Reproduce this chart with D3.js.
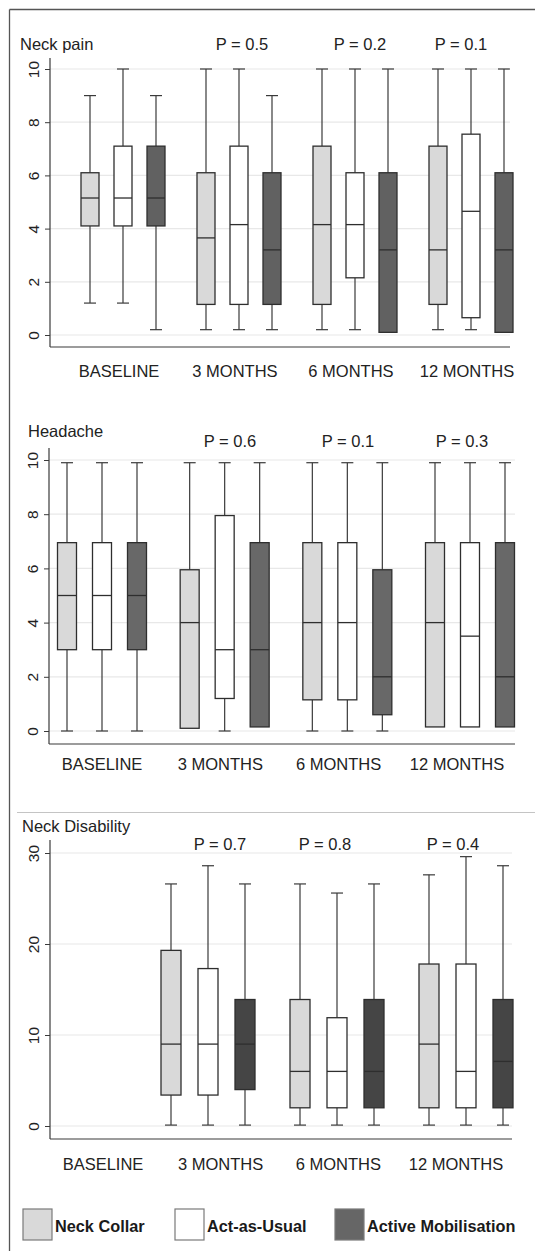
<!DOCTYPE html>
<html>
<head>
<meta charset="utf-8">
<script src="https://cdn.jsdelivr.net/npm/d3@7"></script>
<style>
  html, body { margin: 0; padding: 0; background: #fff; }
  svg { display: block; font-family: "Liberation Sans", Arial, Helvetica, sans-serif; }
</style>
</head>
<body>
<svg id="chart" width="535" height="1251"></svg>
<script>
// ---------- DATA ----------
const categories = ["BASELINE", "3 MONTHS", "6 MONTHS", "12 MONTHS"];
const groups = ["Neck Collar", "Act-as-Usual", "Active Mobilisation"];
const panelTitles = ["Neck pain", "Headache", "Neck Disability"];
const yTicksPain = [0, 2, 4, 6, 8, 10];
const yTicksHeadache = [0, 2, 4, 6, 8, 10];
const yTicksDisability = [0, 10, 20, 30];
const pLabelsPain = ["", "P = 0.5", "P = 0.2", "P = 0.1"];
const pLabelsHeadache = ["", "P = 0.6", "P = 0.1", "P = 0.3"];
const pLabelsDisability = ["", "P = 0.7", "P = 0.8", "P = 0.4"];

// box stats per category, per group: [min, q1, median, q3, max]
const neckPain = [
  [[1.2, 4.1, 5.15, 6.1, 9], [1.2, 4.1, 5.15, 7.1, 10], [0.2, 4.1, 5.15, 7.1, 9]],
  [[0.2, 1.15, 3.65, 6.1, 10], [0.2, 1.15, 4.15, 7.1, 10], [0.2, 1.15, 3.2, 6.1, 9]],
  [[0.2, 1.15, 4.15, 7.1, 10], [0.2, 2.15, 4.15, 6.1, 10], [0.1, 0.1, 3.2, 6.1, 10]],
  [[0.2, 1.15, 3.2, 7.1, 10], [0.2, 0.65, 4.65, 7.55, 10], [0.1, 0.1, 3.2, 6.1, 10]]
];
const headache = [
  [[0, 3.0, 5.0, 6.95, 9.9], [0, 3.0, 5.0, 6.95, 9.9], [0, 3.0, 5.0, 6.95, 9.9]],
  [[0.1, 0.1, 4.0, 5.95, 9.9], [0, 1.2, 3.0, 7.95, 9.9], [0.15, 0.15, 3.0, 6.95, 9.9]],
  [[0, 1.15, 4.0, 6.95, 9.9], [0, 1.15, 4.0, 6.95, 9.9], [0, 0.6, 2.0, 5.95, 9.9]],
  [[0.15, 0.15, 4.0, 6.95, 9.9], [0.15, 0.15, 3.5, 6.95, 9.9], [0.15, 0.15, 2.0, 6.95, 9.9]]
];
const neckDisability = [
  null,
  [[0.1, 3.4, 9.0, 19.3, 26.6], [0.1, 3.4, 9.0, 17.3, 28.6], [0.1, 4.0, 9.0, 13.9, 26.6]],
  [[0.1, 2.0, 6.0, 13.9, 26.6], [0.1, 2.0, 6.0, 11.9, 25.6], [0.1, 2.0, 6.0, 13.9, 26.6]],
  [[0.1, 2.0, 9.0, 17.8, 27.6], [0.1, 2.0, 6.0, 17.8, 29.6], [0.1, 2.0, 7.1, 13.9, 28.6]]
];

// ---------- LAYOUT ----------
const fillsByPanel = [
  ["#d9d9d9", "#ffffff", "#616161"],
  ["#d9d9d9", "#ffffff", "#686868"],
  ["#d9d9d9", "#ffffff", "#454545"]
];
const panels = [
  { title: panelTitles[0], data: neckPain, ticks: yTicksPain, domain: [0, 10], pLabels: pLabelsPain,
    yRange: [335, 69], axisX: 50, axisTop: 58, xAxisY: 347, xAxisEnd: 510,
    groupRange: [123, 471], offset: 33, boxW: 18,
    labelRange: [119, 467], labelY: 377, titleX: 20, titleY: 50,
    pX: [0, 242, 360, 461], pY: 50, fills: fillsByPanel[0] },
  { title: panelTitles[1], data: headache, ticks: yTicksHeadache, domain: [0, 10], pLabels: pLabelsHeadache,
    yRange: [731, 460], axisX: 49, axisTop: 448, xAxisY: 744, xAxisEnd: 515,
    groupRange: [102, 470], offset: 35, boxW: 19,
    labelRange: [102, 457], labelY: 770, titleX: 28, titleY: 437,
    pX: [0, 230, 348, 462], pY: 447, fills: fillsByPanel[1] },
  { title: panelTitles[2], data: neckDisability, ticks: yTicksDisability, domain: [0, 30], pLabels: pLabelsDisability,
    yRange: [1126, 853], axisX: 50, axisTop: 840, xAxisY: 1139, xAxisEnd: 512,
    groupRange: [79, 466], offset: 37, boxW: 20,
    labelRange: [103, 456], labelY: 1170, titleX: 22, titleY: 832,
    pX: [0, 220, 325, 453], pY: 850, fills: fillsByPanel[2] }
];

const svg = d3.select("#chart");
const ink = "#3a3a3a";

// outer frame
svg.append("line").attr("x1", 9.5).attr("x2", 9.5).attr("y1", 9.5).attr("y2", 1251)
  .attr("stroke", "#555").attr("stroke-width", 1.3);
svg.append("line").attr("x1", 9.5).attr("x2", 535).attr("y1", 9.5).attr("y2", 9.5)
  .attr("stroke", "#555").attr("stroke-width", 1.3);
// separator above third panel
svg.append("line").attr("x1", 17).attr("x2", 535).attr("y1", 812.5).attr("y2", 812.5)
  .attr("stroke", "#c4c4c4").attr("stroke-width", 1);

panels.forEach(p => {
  const g = svg.append("g");
  const y = d3.scaleLinear().domain(p.domain).range(p.yRange);
  const xCat = d3.scalePoint().domain(categories).range(p.groupRange);
  const xLab = d3.scalePoint().domain(categories).range(p.labelRange);
  const xGrp = d3.scalePoint().domain(groups).range([-p.offset, p.offset]);

  // gridlines
  g.append("g").selectAll("line").data(p.ticks).join("line")
    .attr("x1", p.axisX).attr("x2", p.xAxisEnd)
    .attr("y1", d => y(d)).attr("y2", d => y(d))
    .attr("stroke", "#e8e8e8").attr("stroke-width", 1.2);

  // y axis
  const ax = g.append("g").attr("transform", `translate(${p.axisX},0)`)
    .call(d3.axisLeft(y).tickValues(p.ticks).tickSize(5).tickFormat(d3.format("d")));
  ax.select(".domain").remove();
  ax.selectAll(".tick line").attr("stroke", ink).attr("stroke-width", 1);
  ax.selectAll(".tick text")
    .attr("x", null).attr("dy", null).attr("fill", "#222")
    .attr("text-anchor", "middle").attr("font-size", 15.5)
    .attr("transform", "translate(-11,0) rotate(-90)");
  g.append("line").attr("x1", p.axisX).attr("x2", p.axisX)
    .attr("y1", p.axisTop).attr("y2", p.xAxisY).attr("stroke", ink).attr("stroke-width", 1.2);
  g.append("line").attr("x1", p.axisX).attr("x2", p.xAxisEnd)
    .attr("y1", p.xAxisY).attr("y2", p.xAxisY).attr("stroke", ink).attr("stroke-width", 1.2);

  // category labels
  g.append("g").selectAll("text").data(categories).join("text")
    .attr("x", d => xLab(d)).attr("y", p.labelY)
    .attr("text-anchor", "middle").attr("font-size", 16.5).attr("fill", "#222")
    .text(d => d);

  // title
  g.append("text").attr("x", p.titleX).attr("y", p.titleY)
    .attr("font-size", 16.5).attr("fill", "#222").text(p.title);

  // p labels
  g.append("g").selectAll("text").data(p.pLabels.map((t, i) => ({ t, i })).filter(d => d.t))
    .join("text")
    .attr("x", d => p.pX[d.i]).attr("y", p.pY)
    .attr("text-anchor", "middle").attr("font-size", 16.5).attr("fill", "#222")
    .text(d => d.t);

  // boxes
  const boxes = [];
  p.data.forEach((cat, ci) => {
    if (!cat) return;
    cat.forEach((s, gi) => boxes.push({ cat: categories[ci], grp: groups[gi], gi, s }));
  });
  const bg = g.append("g").selectAll("g").data(boxes).join("g")
    .attr("transform", d => `translate(${xCat(d.cat) + xGrp(d.grp)},0)`);
  const capW = 12;
  // upper whisker
  bg.append("line").attr("x1", 0).attr("x2", 0)
    .attr("y1", d => y(d.s[4])).attr("y2", d => y(d.s[3]))
    .attr("stroke", ink).attr("stroke-width", 1.2);
  bg.append("line").attr("x1", -capW / 2).attr("x2", capW / 2)
    .attr("y1", d => y(d.s[4])).attr("y2", d => y(d.s[4]))
    .attr("stroke", ink).attr("stroke-width", 1.2);
  // lower whisker
  const low = bg.filter(d => d.s[0] < d.s[1]);
  low.append("line").attr("x1", 0).attr("x2", 0)
    .attr("y1", d => y(d.s[1])).attr("y2", d => y(d.s[0]))
    .attr("stroke", ink).attr("stroke-width", 1.2);
  low.append("line").attr("x1", -capW / 2).attr("x2", capW / 2)
    .attr("y1", d => y(d.s[0])).attr("y2", d => y(d.s[0]))
    .attr("stroke", ink).attr("stroke-width", 1.2);
  // box
  bg.append("rect")
    .attr("x", -p.boxW / 2).attr("width", p.boxW)
    .attr("y", d => y(d.s[3])).attr("height", d => y(d.s[1]) - y(d.s[3]))
    .attr("fill", d => p.fills[d.gi]).attr("stroke", "#2e2e2e").attr("stroke-width", 1.3);
  // median
  bg.append("line").attr("x1", -p.boxW / 2).attr("x2", p.boxW / 2)
    .attr("y1", d => y(d.s[2])).attr("y2", d => y(d.s[2]))
    .attr("stroke", "#2e2e2e").attr("stroke-width", 1.3);
});

// legend
const legendFills = ["#d9d9d9", "#ffffff", "#666666"];
const legendX = d3.scalePoint().domain(groups).range([23, 335]);
const lg = svg.append("g").selectAll("g").data(groups).join("g")
  .attr("transform", (d, i) => `translate(${i === 1 ? 175 : legendX(d)},1209)`);
lg.append("rect").attr("width", 29).attr("height", 31)
  .attr("fill", (d, i) => legendFills[i]).attr("stroke", "#7a7a7a").attr("stroke-width", 1.2);
lg.append("text").attr("x", 32).attr("y", 23)
  .attr("font-size", 16.3).attr("font-weight", "bold").attr("fill", "#1a1a1a")
  .text(d => d);
</script>
</body>
</html>
